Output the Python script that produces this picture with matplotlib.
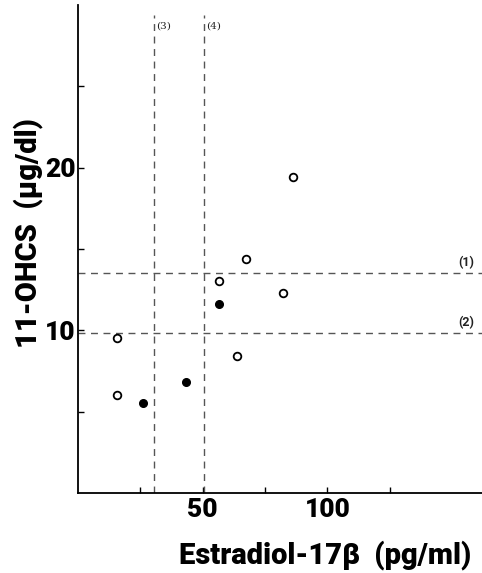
import matplotlib
matplotlib.use("Agg")
import matplotlib.pyplot as plt

# Data
open_x = [15.5, 15.5, 86, 67.2, 56.7, 82, 63.7]
open_y = [9.5, 6.0, 19.4, 14.4, 13.0, 12.3, 8.4]
filled_x = [56.6, 43.3, 25.9]
filled_y = [11.6, 6.8, 5.5]

hlines = [13.5, 9.8]
hline_labels = ["(1)", "(2)"]
vlines = [30.5, 50.5]
vline_labels = ["(3)", "(4)"]

x_ticks = [25, 50, 75, 100, 125]
x_ticklabels = ["", "50", "", "100", ""]
y_ticks = [5, 10, 15, 20, 25]
y_ticklabels = ["", "10", "", "20", ""]

fam = ["Roboto", "DejaVu Sans"]

fig = plt.figure(figsize=(4.82, 5.73), dpi=100)
ax = fig.add_axes([0.162, 0.14, 0.838, 0.851])
ax.set_xlim(0, 162)
ax.set_ylim(0, 30)

for s in ["top", "right"]:
    ax.spines[s].set_visible(False)
for s in ["left", "bottom"]:
    ax.spines[s].set_linewidth(1.3)

dash = (0, (5, 4))
for yv, lab in zip(hlines, hline_labels):
    ax.plot([0, 162], [yv, yv], color="#555555", lw=1.0, linestyle=dash)
    ax.text(159, yv + 0.25, lab, ha="right", va="bottom", fontsize=9,
            fontweight="bold", color="#222222", family=fam)
for xv, lab in zip(vlines, vline_labels):
    ax.plot([xv, xv], [0, 29.4], color="#555555", lw=1.0, linestyle=dash)
    ax.text(xv + 0.8, 28.7, lab, ha="left", va="center", fontsize=7.5,
            color="#222222", family="DejaVu Serif")

ax.plot(open_x, open_y, linestyle="none", marker="o", ms=5.5, mfc="white",
        mec="black", mew=1.3)
ax.plot(filled_x, filled_y, linestyle="none", marker="o", ms=5.5, mfc="black",
        mec="black")

ax.set_xticks(x_ticks)
ax.set_xticklabels(x_ticklabels, fontsize=19, fontweight="black", family=fam)
ax.set_yticks(y_ticks)
ax.set_yticklabels(y_ticklabels, fontsize=19, fontweight="black", family=fam)
ax.tick_params(direction="in", length=4, width=1, pad=3)
ax.tick_params(axis="x", pad=4)
ax.tick_params(axis="y", pad=2)

fig.text(0.675, 0.0175, "Estradiol-17β  (pg/ml)", ha="center", va="baseline",
         fontsize=21, fontweight="black", family=fam)
fig.text(0.058, 0.593, "11-OHCS  (μg/dl)", ha="center", va="center",
         rotation=90, fontsize=21, fontweight="black", family=fam)

fig.savefig("out.png", dpi=100)
